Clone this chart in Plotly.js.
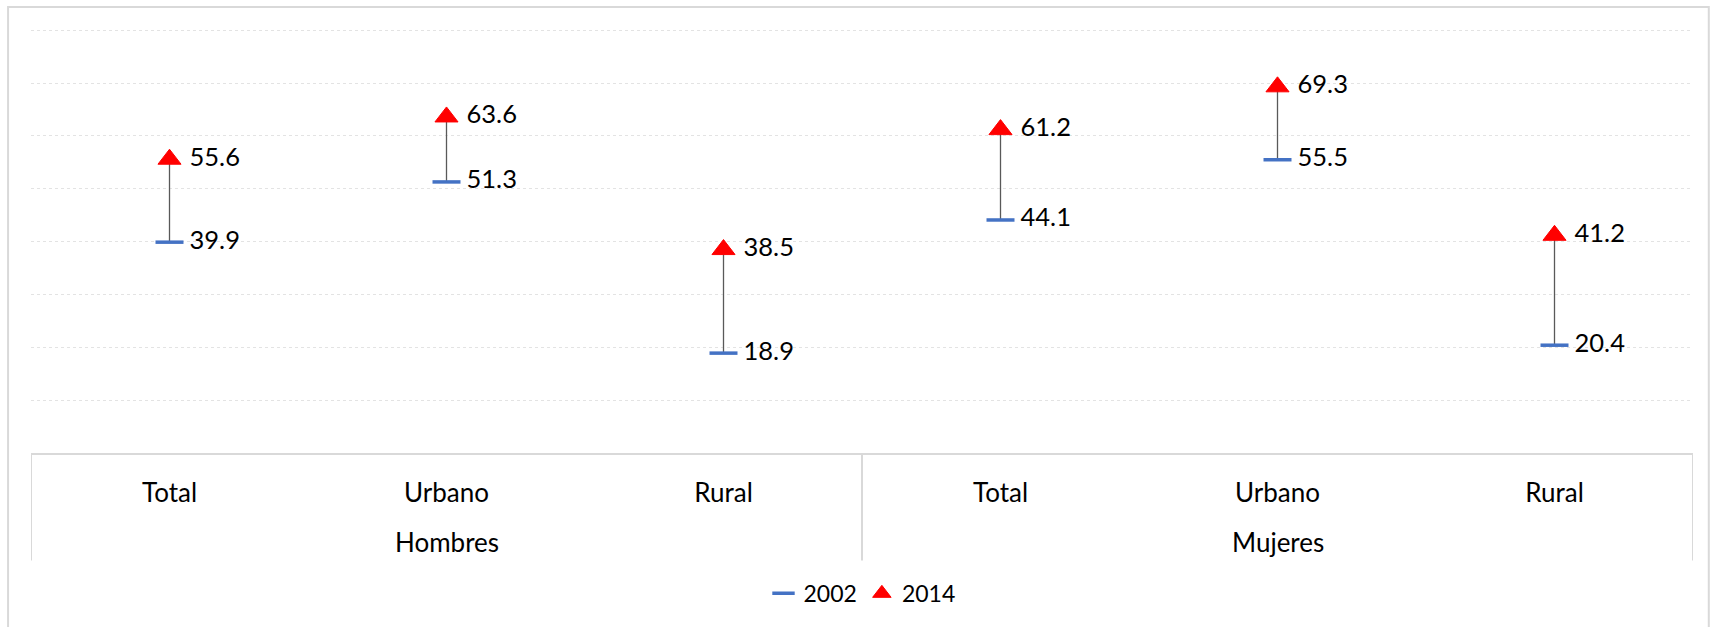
<!DOCTYPE html>
<html><head><meta charset="utf-8">
<script src="https://cdn.plot.ly/plotly-3.0.1.min.js"></script>
<style>html,body{margin:0;padding:0;background:#fff}</style>
</head><body><div id="chart" style="width:1715px;height:627px"></div>
<script>
const groups = ["Hombres","Hombres","Hombres","Mujeres","Mujeres","Mujeres"];
const categories = ["Total","Urbano","Rural","Total","Urbano","Rural"];
const values2002 = [39.9, 51.3, 18.9, 44.1, 55.5, 20.4];
const values2014 = [55.6, 63.6, 38.5, 61.2, 69.3, 41.2];
const seriesNames = ["2002", "2014"];
const gridValues = [10, 20, 30, 40, 50, 60, 70, 80];

const FONT = "Lato, 'Open Sans', sans-serif";
const xIdx = categories.map((_, i) => i);

const trace2002 = {
  type: "scatter", mode: "markers+text", name: seriesNames[0],
  x: xIdx, y: values2002,
  marker: {symbol: "line-ew", size: 20, color: "#4472C4", line: {color: "#4472C4", width: 3.5}},
  error_y: {type: "data", symmetric: false,
    array: values2014.map((v, i) => v - values2002[i]),
    arrayminus: values2002.map(() => 0),
    width: 0, color: "#595959", thickness: 1.3},
  texttemplate: "\u00a0%{y:.1f}", textposition: "middle right",
  textfont: {family: FONT, size: 25.5, color: "#000"},
  hoverinfo: "skip"
};
const trace2014 = {
  type: "scatter", mode: "markers+text", name: seriesNames[1],
  x: xIdx, y: values2014,
  marker: {symbol: "triangle-up", size: 20, color: "#FF0000", line: {color: "#FF0000", width: 1}},
  texttemplate: "\u00a0%{y:.1f}", textposition: "middle right",
  textfont: {family: FONT, size: 25.5, color: "#000"},
  hoverinfo: "skip"
};

// group label annotations and divider lines derived from the groups array
const uniqueGroups = [...new Set(groups)];
const annotations = uniqueGroups.map(g => {
  const idx = groups.map((v, i) => v === g ? i : -1).filter(i => i >= 0);
  return {
    text: g, xref: "x", yref: "paper",
    x: (idx[0] + idx[idx.length - 1]) / 2, y: -0.208,
    xanchor: "center", yanchor: "middle", showarrow: false,
    font: {family: FONT, size: 26, color: "#000"}
  };
});
const dividerPos = [-0.5];
groups.forEach((g, i) => { if (i > 0 && g !== groups[i - 1]) dividerPos.push(i - 0.5); });
dividerPos.push(groups.length - 0.5);
const dividerShapes = dividerPos.map(x => ({
  type: "line", xref: "x", yref: "paper", x0: x, x1: x, y0: 0, y1: -0.251,
  line: {color: "#d9d9d9", width: 2}
}));

const layout = {
  width: 1715, height: 627,
  margin: {l: 31, r: 22, t: 25, b: 172},
  paper_bgcolor: "#fff", plot_bgcolor: "#fff",
  font: {family: FONT, size: 23, color: "#000"},
  showlegend: true,
  legend: {orientation: "h", x: 0.5, xanchor: "center", y: -0.328, yanchor: "middle",
    font: {family: FONT, size: 23, color: "#000"}, traceorder: "normal"},
  xaxis: {
    range: [-0.5, categories.length - 0.5],
    tickvals: xIdx, ticktext: categories,
    showline: true, linecolor: "#d9d9d9", linewidth: 2,
    showgrid: false, zeroline: false, ticks: "",
    tickfont: {family: FONT, size: 26, color: "#000"},
    ticklabelstandoff: 16, fixedrange: true
  },
  yaxis: {
    range: [0, 81], tickvals: gridValues, showticklabels: false, ticks: "",
    showgrid: true, gridcolor: "#e3e3e3", gridwidth: 1, griddash: "3px,3px",
    zeroline: false, showline: false, fixedrange: true
  },
  annotations: annotations,
  shapes: [{
    type: "rect", xref: "paper", yref: "paper",
    x0: -0.0138, x1: 1.0095, y0: -0.5, y1: 1.042,
    line: {color: "#d9d9d9", width: 2}, fillcolor: "rgba(0,0,0,0)", layer: "below"
  }].concat(dividerShapes)
};

Plotly.newPlot("chart", [trace2002, trace2014], layout, {displayModeBar: false, staticPlot: true});
</script>
</body></html>
